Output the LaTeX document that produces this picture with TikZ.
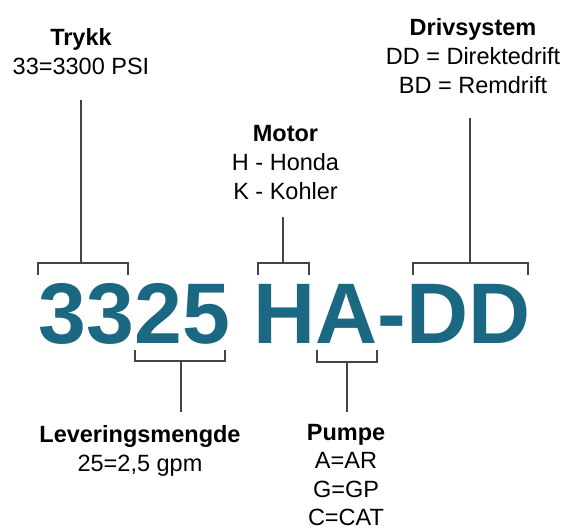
\documentclass[tikz,border=0pt]{standalone}
\usepackage{fontspec}
\setmainfont{Liberation Sans}
\definecolor{codeteal}{HTML}{1A6881}
\definecolor{linegray}{HTML}{444444}
\begin{document}
\begin{tikzpicture}[x=1pt,y=-1pt,
  lbl/.style={inner sep=0pt,align=center,anchor=base,
    font=\fontsize{23.5}{29}\selectfont},
  code/.style={inner sep=0pt,anchor=base west,text=codeteal,
    font=\fontsize{86}{86}\selectfont\bfseries},
  brk/.style={draw=linegray,line width=1.6pt,line cap=butt,line join=miter}]
\useasboundingbox (0,0) rectangle (568,531);
% main code
\node[code] (code) at (38.5,343) {3325 HA-DD};
% labels (anchor = baseline of last line)
\node[lbl] (trykk) at (81,74.5) {\textbf{Trykk}\\33=3300 PSI};
\node[lbl] (drv) at (473,93) {\textbf{Drivsystem}\\DD = Direktedrift\\BD = Remdrift};
\node[lbl] (motor) at (285.5,199) {\textbf{Motor}\\H - Honda\\K - Kohler};
\node[lbl] (lev) at (140,471.5) {\textbf{Leveringsmengde}\\25=2,5 gpm};
\node[lbl,font=\fontsize{23.5}{28.5}\selectfont] (pump) at (346,525.5) {\textbf{Pumpe}\\A=AR\\G=GP\\C=CAT};
% stem ends
\coordinate (tTop) at (81,100);  \coordinate (tBr) at (81,263);
\coordinate (mTop) at (283,217); \coordinate (mBr) at (283,263);
\coordinate (dTop) at (470,118); \coordinate (dBr) at (470,263);
\coordinate (lBot) at (181,412); \coordinate (lBr) at (181,361);
\coordinate (pBot) at (347,412); \coordinate (pBr) at (347,362);
% top brackets
\draw[brk] (tTop) -- (tBr);
\draw[brk] (38,275) -- (38,263) -- (128,263) -- (128,275);
\draw[brk] (mTop) -- (mBr);
\draw[brk] (258,275) -- (258,263) -- (309,263) -- (309,275);
\draw[brk] (dTop) -- (dBr);
\draw[brk] (413,275) -- (413,263) -- (528,263) -- (528,275);
% bottom brackets
\draw[brk] (lBot) -- (lBr);
\draw[brk] (135,350) -- (135,361) -- (225,361) -- (225,350);
\draw[brk] (pBot) -- (pBr);
\draw[brk] (317,350) -- (317,362) -- (377,362) -- (377,350);
\end{tikzpicture}
\end{document}
